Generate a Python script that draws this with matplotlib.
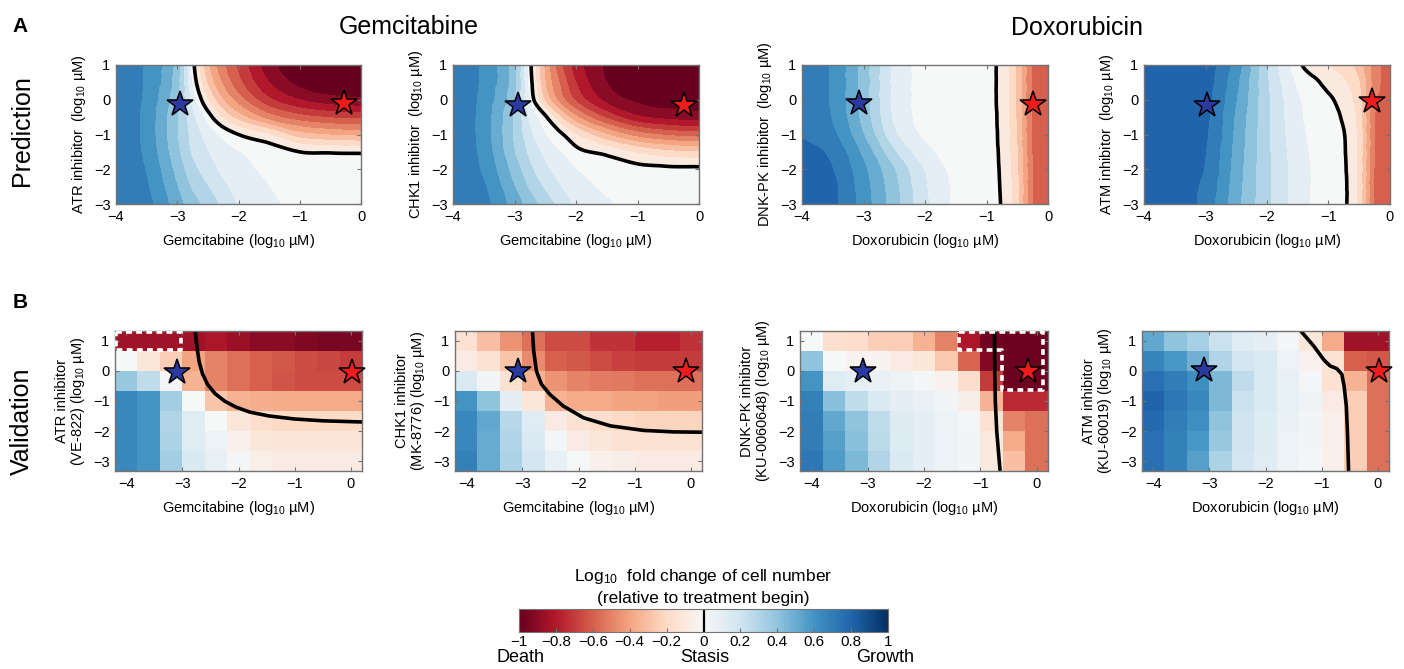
import numpy as np
import matplotlib
matplotlib.use("Agg")
import matplotlib.pyplot as plt
import matplotlib.tri as mtri
from matplotlib.colors import Normalize
from matplotlib.cm import ScalarMappable

plt.rcParams['font.family'] = ['Liberation Sans', 'DejaVu Sans']
plt.rcParams['mathtext.fontset'] = 'custom'
plt.rcParams['mathtext.rm'] = 'Liberation Sans'
plt.rcParams['mathtext.it'] = 'Liberation Sans:italic'

# ---------------- prediction surfaces (log10 fold change), rows from top (y=1.5) to bottom (y=-3.5)
pred_y = [1.5, 1.0, 0.5, 0.0, -0.5, -1.0, -1.5, -2.0, -2.5, -3.0, -3.5]
gem_pred_x = [-4.5, -4.0, -3.5, -3.0, -2.75, -2.5, -2.25, -2.0, -1.5, -1.0, -0.5, 0.0, 0.5]
dox_pred_x = [-4.5, -4.0, -3.5, -3.0, -2.5, -2.0, -1.5, -1.25, -1.0, -0.75, -0.5, -0.25, 0.0, 0.5]

atr_gem_pred = [
    [0.80, 0.78, 0.69, 0.45, 0.04, -0.30, -0.50, -0.65, -0.88, -0.97, -1.00, -1.00, -1.00],
    [0.80, 0.78, 0.68, 0.44, 0.04, -0.28, -0.48, -0.62, -0.86, -0.96, -0.99, -1.00, -1.00],
    [0.80, 0.78, 0.68, 0.43, 0.08, -0.22, -0.42, -0.57, -0.80, -0.93, -0.97, -0.98, -0.98],
    [0.80, 0.78, 0.67, 0.41, 0.15, -0.10, -0.30, -0.45, -0.68, -0.80, -0.86, -0.88, -0.88],
    [0.80, 0.78, 0.66, 0.40, 0.22, 0.05, -0.12, -0.25, -0.45, -0.56, -0.61, -0.63, -0.63],
    [0.80, 0.78, 0.66, 0.40, 0.26, 0.15, 0.07, 0.00, -0.10, -0.26, -0.31, -0.33, -0.33],
    [0.80, 0.78, 0.67, 0.42, 0.28, 0.20, 0.13, 0.10, 0.06, 0.00, -0.01, -0.015, -0.015],
    [0.80, 0.78, 0.69, 0.46, 0.33, 0.25, 0.17, 0.13, 0.08, 0.05, 0.05, 0.05, 0.05],
    [0.80, 0.79, 0.71, 0.50, 0.38, 0.30, 0.22, 0.16, 0.10, 0.06, 0.05, 0.05, 0.05],
    [0.80, 0.79, 0.73, 0.54, 0.44, 0.36, 0.27, 0.19, 0.12, 0.07, 0.06, 0.05, 0.05],
    [0.80, 0.79, 0.74, 0.56, 0.46, 0.38, 0.29, 0.21, 0.13, 0.08, 0.06, 0.05, 0.05],
]

chk1_gem_pred = [
    [0.80, 0.78, 0.67, 0.42, 0.03, -0.35, -0.60, -0.78, -0.93, -1.00, -1.00, -1.00, -1.00],
    [0.80, 0.78, 0.67, 0.42, 0.03, -0.33, -0.58, -0.75, -0.92, -0.99, -1.00, -1.00, -1.00],
    [0.80, 0.78, 0.67, 0.42, 0.05, -0.30, -0.52, -0.70, -0.90, -0.97, -0.99, -0.99, -0.99],
    [0.80, 0.78, 0.66, 0.40, 0.08, -0.22, -0.45, -0.62, -0.83, -0.92, -0.94, -0.95, -0.95],
    [0.80, 0.78, 0.65, 0.38, 0.17, 0.02, -0.20, -0.38, -0.62, -0.78, -0.83, -0.85, -0.85],
    [0.80, 0.78, 0.65, 0.38, 0.22, 0.10, 0.02, -0.10, -0.30, -0.45, -0.52, -0.55, -0.55],
    [0.80, 0.78, 0.66, 0.40, 0.27, 0.17, 0.10, 0.03, -0.03, -0.12, -0.18, -0.20, -0.20],
    [0.80, 0.78, 0.68, 0.45, 0.32, 0.22, 0.15, 0.10, 0.06, 0.03, 0.02, 0.02, 0.02],
    [0.80, 0.79, 0.71, 0.50, 0.38, 0.28, 0.20, 0.14, 0.08, 0.05, 0.04, 0.04, 0.04],
    [0.80, 0.79, 0.73, 0.55, 0.45, 0.35, 0.26, 0.18, 0.11, 0.07, 0.05, 0.04, 0.04],
    [0.80, 0.79, 0.74, 0.57, 0.47, 0.37, 0.28, 0.20, 0.12, 0.08, 0.05, 0.04, 0.04],
]

dnkpk_dox_pred = [
    [0.80, 0.77, 0.68, 0.45, 0.17, 0.07, 0.05, 0.045, 0.04, -0.04, -0.22, -0.52, -0.58, -0.60],
    [0.80, 0.77, 0.68, 0.45, 0.17, 0.07, 0.05, 0.045, 0.04, -0.04, -0.22, -0.52, -0.58, -0.60],
    [0.80, 0.77, 0.68, 0.45, 0.17, 0.07, 0.05, 0.045, 0.04, -0.04, -0.22, -0.52, -0.58, -0.60],
    [0.80, 0.77, 0.68, 0.45, 0.17, 0.07, 0.05, 0.045, 0.04, -0.04, -0.22, -0.52, -0.58, -0.60],
    [0.80, 0.77, 0.69, 0.46, 0.18, 0.07, 0.05, 0.045, 0.04, -0.035, -0.22, -0.52, -0.58, -0.60],
    [0.82, 0.79, 0.72, 0.50, 0.22, 0.08, 0.05, 0.045, 0.04, -0.03, -0.21, -0.52, -0.58, -0.60],
    [0.85, 0.83, 0.77, 0.57, 0.31, 0.13, 0.06, 0.05, 0.045, -0.025, -0.20, -0.51, -0.58, -0.60],
    [0.87, 0.85, 0.80, 0.62, 0.40, 0.19, 0.07, 0.055, 0.05, -0.02, -0.19, -0.50, -0.58, -0.60],
    [0.88, 0.86, 0.82, 0.64, 0.43, 0.21, 0.08, 0.06, 0.055, -0.015, -0.18, -0.50, -0.58, -0.60],
    [0.88, 0.86, 0.82, 0.65, 0.44, 0.22, 0.08, 0.065, 0.06, -0.01, -0.18, -0.50, -0.58, -0.60],
    [0.88, 0.86, 0.83, 0.66, 0.45, 0.23, 0.085, 0.07, 0.065, -0.01, -0.18, -0.50, -0.58, -0.60],
]

atm_dox_pred = [
    [0.88, 0.87, 0.86, 0.85, 0.68, 0.30, 0.00, -0.08, -0.12, -0.17, -0.27, -0.45, -0.55, -0.58],
    [0.88, 0.87, 0.86, 0.85, 0.65, 0.30, 0.03, -0.06, -0.10, -0.15, -0.25, -0.45, -0.55, -0.58],
    [0.88, 0.87, 0.86, 0.84, 0.62, 0.31, 0.08, 0.03, -0.04, -0.09, -0.20, -0.45, -0.55, -0.58],
    [0.88, 0.87, 0.86, 0.83, 0.60, 0.32, 0.11, 0.06, 0.02, -0.05, -0.17, -0.48, -0.56, -0.58],
    [0.88, 0.87, 0.86, 0.82, 0.58, 0.32, 0.12, 0.07, 0.05, -0.02, -0.15, -0.50, -0.57, -0.58],
    [0.88, 0.87, 0.86, 0.81, 0.57, 0.32, 0.13, 0.08, 0.06, 0.005, -0.14, -0.50, -0.57, -0.58],
    [0.88, 0.87, 0.86, 0.80, 0.56, 0.32, 0.14, 0.085, 0.06, 0.01, -0.14, -0.50, -0.57, -0.58],
    [0.88, 0.87, 0.86, 0.79, 0.55, 0.32, 0.15, 0.09, 0.06, 0.015, -0.14, -0.51, -0.57, -0.58],
    [0.88, 0.87, 0.85, 0.77, 0.54, 0.32, 0.15, 0.09, 0.06, 0.02, -0.14, -0.52, -0.57, -0.58],
    [0.88, 0.87, 0.85, 0.76, 0.53, 0.32, 0.15, 0.09, 0.06, 0.02, -0.14, -0.52, -0.58, -0.58],
    [0.88, 0.87, 0.85, 0.76, 0.53, 0.32, 0.15, 0.09, 0.06, 0.02, -0.14, -0.52, -0.58, -0.58],
]

# ---------------- validation measurements, rows from top (y=1) to bottom (y=-3)
meas_x = [-4.0, -3.6, -3.2, -2.8, -2.4, -2.0, -1.6, -1.2, -0.8, -0.4, 0.0]
meas_y = [1.0, 0.333, -0.333, -1.0, -1.667, -2.333, -3.0]

atr_gem_meas = [
    [-0.85, -0.85, -0.85, -0.85, -0.82, -0.86, -0.90, -0.90, -0.93, -0.95, -0.95],
    [0.00, -0.12, -0.25, -0.40, -0.50, -0.55, -0.60, -0.62, -0.65, -0.67, -0.70],
    [0.38, 0.25, 0.02, -0.35, -0.50, -0.55, -0.60, -0.63, -0.65, -0.65, -0.65],
    [0.65, 0.60, 0.35, 0.00, -0.28, -0.35, -0.36, -0.37, -0.38, -0.38, -0.38],
    [0.65, 0.60, 0.30, 0.12, 0.00, -0.12, -0.18, -0.20, -0.20, -0.20, -0.20],
    [0.65, 0.60, 0.32, 0.12, 0.06, -0.05, -0.12, -0.13, -0.13, -0.13, -0.13],
    [0.65, 0.60, 0.35, 0.16, 0.08, 0.02, -0.06, -0.08, -0.08, -0.08, -0.08],
]

chk1_gem_meas = [
    [-0.15, -0.30, -0.45, -0.55, -0.65, -0.65, -0.72, -0.72, -0.78, -0.78, -0.72],
    [-0.08, -0.15, -0.28, -0.47, -0.60, -0.62, -0.65, -0.68, -0.70, -0.70, -0.70],
    [0.15, 0.03, -0.15, -0.35, -0.45, -0.50, -0.52, -0.53, -0.55, -0.55, -0.55],
    [0.60, 0.40, 0.10, -0.12, -0.35, -0.38, -0.38, -0.40, -0.40, -0.42, -0.42],
    [0.65, 0.52, 0.28, 0.12, -0.08, -0.15, -0.18, -0.20, -0.22, -0.22, -0.22],
    [0.65, 0.50, 0.30, 0.15, 0.02, -0.08, -0.12, -0.15, -0.15, -0.15, -0.15],
    [0.68, 0.50, 0.32, 0.18, 0.08, 0.00, -0.05, -0.07, -0.08, -0.08, -0.08],
]

dnkpk_dox_meas = [
    [0.00, -0.17, -0.18, -0.25, -0.25, -0.35, -0.50, -0.82, -0.97, -0.98, -0.98],
    [0.40, 0.00, -0.03, -0.03, -0.08, -0.12, -0.27, -0.58, -0.92, -0.98, -0.98],
    [0.60, 0.12, 0.10, 0.07, 0.05, 0.02, -0.04, -0.18, -0.70, -0.98, -0.98],
    [0.68, 0.42, 0.25, 0.15, 0.10, 0.07, 0.03, -0.07, -0.35, -0.75, -0.75],
    [0.70, 0.52, 0.40, 0.25, 0.13, 0.10, 0.05, 0.02, -0.15, -0.50, -0.55],
    [0.70, 0.55, 0.42, 0.27, 0.14, 0.10, 0.06, 0.03, -0.10, -0.38, -0.55],
    [0.72, 0.57, 0.45, 0.30, 0.15, 0.10, 0.06, 0.03, -0.10, -0.30, -0.55],
]

atm_dox_meas = [
    [0.52, 0.40, 0.33, 0.22, 0.12, 0.10, 0.02, -0.12, -0.38, -0.85, -0.85],
    [0.67, 0.58, 0.48, 0.30, 0.18, 0.15, 0.06, -0.04, -0.15, -0.60, -0.62],
    [0.75, 0.70, 0.62, 0.45, 0.25, 0.15, 0.08, 0.02, -0.15, -0.35, -0.55],
    [0.80, 0.72, 0.65, 0.45, 0.22, 0.15, 0.08, 0.04, -0.08, -0.25, -0.55],
    [0.78, 0.70, 0.62, 0.40, 0.20, 0.14, 0.07, 0.03, -0.05, -0.25, -0.55],
    [0.75, 0.68, 0.58, 0.38, 0.20, 0.13, 0.06, 0.03, -0.05, -0.25, -0.55],
    [0.75, 0.68, 0.55, 0.32, 0.18, 0.12, 0.06, 0.02, -0.05, -0.25, -0.55],
]

# fitted stasis boundaries drawn on the validation panels
atr_gem_fit_x = [-2.77, -2.74, -2.70, -2.64, -2.55, -2.42, -2.25, -2.05, -1.80, -1.45, -1.00, -0.50, 0.21]
atr_gem_fit_y = [1.33, 0.80, 0.30, -0.10, -0.45, -0.75, -1.00, -1.20, -1.37, -1.50, -1.60, -1.66, -1.70]
chk1_gem_fit_x = [-2.82, -2.80, -2.75, -2.66, -2.51, -2.27, -1.91, -1.43, -0.84, -0.30, 0.21]
chk1_gem_fit_y = [1.33, 0.70, 0.00, -0.44, -0.78, -1.17, -1.56, -1.83, -1.98, -2.03, -2.04]
dnkpk_dox_fit_x = [-0.75, -0.745, -0.735, -0.71, -0.65]
dnkpk_dox_fit_y = [1.33, 0.00, -1.00, -2.00, -3.33]
atm_dox_fit_x = [-1.37, -1.14, -0.96, -0.85, -0.73, -0.64, -0.60, -0.56, -0.54, -0.52]
atm_dox_fit_y = [1.33, 0.83, 0.37, 0.17, 0.08, -0.11, -0.50, -1.17, -2.06, -3.33]

# star markers (blue: low drug dose, red: high drug dose)
pred_blue_stars = [(-2.96, -0.13), (-2.94, -0.14), (-3.08, -0.10), (-2.98, -0.15)]
pred_red_stars = [(-0.28, -0.10), (-0.24, -0.14), (-0.25, -0.13), (-0.30, -0.05)]
meas_blue_stars = [(-3.09, -0.05), (-3.07, 0.0), (-3.09, 0.0), (-3.10, 0.03)]
meas_red_stars = [(0.03, -0.05), (-0.09, 0.0), (-0.15, 0.0), (0.02, 0.0)]

# highlighted cells (dashed white outlines)
atr_gem_box = [(-4.18, 1.31), (-3.02, 1.31), (-3.02, 0.69), (-4.18, 0.69), (-4.18, 1.31)]
dnkpk_dox_box = [(-1.38, 1.31), (0.12, 1.31), (0.12, -0.62), (-0.62, -0.62), (-0.62, 0.69),
                 (-1.38, 0.69), (-1.38, 1.31)]

pred_ylabels = ['ATR inhibitor  (log$_{10}$ µM)', 'CHK1 inhibitor  (log$_{10}$ µM)',
                'DNK-PK inhibitor  (log$_{10}$ µM)', 'ATM inhibitor  (log$_{10}$ µM)']
meas_ylabels = ['ATR inhibitor\n(VE-822) (log$_{10}$ µM)', 'CHK1 inhibitor\n(MK-8776) (log$_{10}$ µM)',
                'DNK-PK inhibitor\n(KU-0060648) (log$_{10}$ µM)', 'ATM inhibitor\n(KU-60019) (log$_{10}$ µM)']
xlabels = ['Gemcitabine (log$_{10}$ µM)'] * 2 + ['Doxorubicin (log$_{10}$ µM)'] * 2

cmap = plt.get_cmap('RdBu')
norm = Normalize(-1, 1)
levels = np.round(np.arange(-1.0, 1.001, 0.1), 2)
band_colors = [cmap(norm(l)) for l in levels[:-1]]

W, H = 1404, 669
fig = plt.figure(figsize=(W / 100, H / 100), dpi=100)


def px_axes(x0, y0, x1, y1):
    return fig.add_axes([x0 / W, 1 - y1 / H, (x1 - x0) / W, (y1 - y0) / H])


def style(ax):
    for s in ax.spines.values():
        s.set_color('0.45')
        s.set_linewidth(1.0)
    ax.tick_params(direction='in', length=3, width=0.8, color='0.45', labelsize=10.5,
                   top=True, right=True, pad=4)


def star(ax, pos, color):
    ax.plot(pos[0], pos[1], marker='*', ms=19, mfc=color, mec='k', mew=1.1, zorder=5,
            clip_on=False)


def grid_triangulation(xs, ys):
    # same diagonal in every grid cell
    X, Y = np.meshgrid(xs, ys)
    nr, nc = X.shape
    tris = []
    for r in range(nr - 1):
        for c in range(nc - 1):
            a = r * nc + c
            tris.append([a, a + 1, a + nc + 1])
            tris.append([a, a + nc + 1, a + nc])
    return mtri.Triangulation(X.ravel(), Y.ravel(), np.array(tris))


pred_axes = [(116, 65, 361, 204), (453, 65, 699, 204), (802, 65, 1048, 204), (1144, 65, 1390, 204)]
meas_axes = [(115, 331, 362, 471), (455, 331, 702, 471), (800, 331, 1048, 471), (1142, 331, 1389, 471)]

pred_data = [(gem_pred_x, atr_gem_pred), (gem_pred_x, chk1_gem_pred),
             (dox_pred_x, dnkpk_dox_pred), (dox_pred_x, atm_dox_pred)]
meas_data = [atr_gem_meas, chk1_gem_meas, dnkpk_dox_meas, atm_dox_meas]
fit_lines = [(atr_gem_fit_x, atr_gem_fit_y), (chk1_gem_fit_x, chk1_gem_fit_y),
             (dnkpk_dox_fit_x, dnkpk_dox_fit_y), (atm_dox_fit_x, atm_dox_fit_y)]
boxes = [atr_gem_box, None, dnkpk_dox_box, None]

# ---------- row A: predictions
for i, (rect, (px, pz)) in enumerate(zip(pred_axes, pred_data)):
    ax = px_axes(*rect)
    tri = grid_triangulation(px, pred_y)
    z = np.asarray(pz, float).ravel()
    interp = mtri.CubicTriInterpolator(tri, z, kind='geom')
    tri_f, z_f = mtri.UniformTriRefiner(tri).refine_field(z, triinterpolator=interp, subdiv=4)
    z_f = np.clip(z_f, -0.999, 0.999)
    ax.tricontourf(tri_f, z_f, levels=levels, colors=band_colors)
    ax.tricontour(tri_f, z_f, levels=[0], colors='k', linewidths=2.6)
    star(ax, pred_blue_stars[i], '#2b3aa0')
    star(ax, pred_red_stars[i], '#ee1c1c')
    ax.set_xlim(-4, 0)
    ax.set_ylim(-3, 1)
    ax.set_xticks([-4, -3, -2, -1, 0])
    ax.set_yticks([-3, -2, -1, 0, 1])
    ax.set_xlabel(xlabels[i], fontsize=10.5, labelpad=6)
    ax.set_ylabel(pred_ylabels[i], fontsize=10.5, labelpad=4)
    style(ax)

# ---------- row B: validation
xe = np.arange(len(meas_x) + 1) * 0.4 - 4.2
ye = np.linspace(-3.333, 1.333, len(meas_y) + 1)
for i, rect in enumerate(meas_axes):
    ax = px_axes(*rect)
    ax.pcolormesh(xe, ye, np.flipud(np.asarray(meas_data[i])), cmap=cmap, norm=norm)
    ax.plot(fit_lines[i][0], fit_lines[i][1], color='k', lw=2.6, solid_capstyle='butt')
    if boxes[i] is not None:
        bx, by = zip(*boxes[i])
        ax.plot(bx, by, color='white', lw=2.6, dashes=(1.6, 1.2), zorder=4)
    star(ax, meas_blue_stars[i], '#2b3aa0')
    star(ax, meas_red_stars[i], '#ee1c1c')
    ax.set_xlim(-4.2, 0.2)
    ax.set_ylim(-3.333, 1.333)
    ax.set_xticks([-4, -3, -2, -1, 0])
    ax.set_yticks([-3, -2, -1, 0, 1])
    ax.set_xlabel(xlabels[i], fontsize=10.5, labelpad=6)
    ax.set_ylabel(meas_ylabels[i], fontsize=10.5, labelpad=4, linespacing=1.05)
    style(ax)

# ---------- texts
fig.text(20 / W, 1 - 27 / H, 'A', fontsize=15, fontweight='bold', ha='center', va='center')
fig.text(20 / W, 1 - 303 / H, 'B', fontsize=15, fontweight='bold', ha='center', va='center')
fig.text(409 / W, 1 - 27 / H, 'Gemcitabine', fontsize=18, ha='center', va='center')
fig.text(1077 / W, 1 - 28 / H, 'Doxorubicin', fontsize=18, ha='center', va='center')
fig.text(22 / W, 1 - 131 / H, 'Prediction', fontsize=18, rotation=90, ha='center', va='center')
fig.text(22 / W, 1 - 421 / H, 'Validation', fontsize=18, rotation=90, ha='center', va='center')

# ---------- colorbar
cax = px_axes(519, 609, 888, 632)
cb = fig.colorbar(ScalarMappable(norm=norm, cmap=cmap), cax=cax, orientation='horizontal')
cb_ticks = [-1, -0.8, -0.6, -0.4, -0.2, 0, 0.2, 0.4, 0.6, 0.8, 1]
cb.set_ticks(cb_ticks)
cb.set_ticklabels([('%g' % t).replace('-', '\u2212') for t in cb_ticks])
cax.tick_params(direction='in', length=3, color='0.45', labelsize=11, pad=2)
cb.outline.set_edgecolor('0.45')
cax.axvline(0, color='k', lw=1.6)
fig.text(703 / W, 1 - 576 / H, 'Log$_{10}$  fold change of cell number', fontsize=12.5,
         ha='center', va='center')
fig.text(703 / W, 1 - 598 / H, '(relative to treatment begin)', fontsize=12.5,
         ha='center', va='center')
fig.text(521 / W, 1 - 658 / H, 'Death', fontsize=13, ha='center', va='center')
fig.text(705 / W, 1 - 658 / H, 'Stasis', fontsize=13, ha='center', va='center')
fig.text(885 / W, 1 - 658 / H, 'Growth', fontsize=13, ha='center', va='center')

fig.savefig('out.png', dpi=100)
